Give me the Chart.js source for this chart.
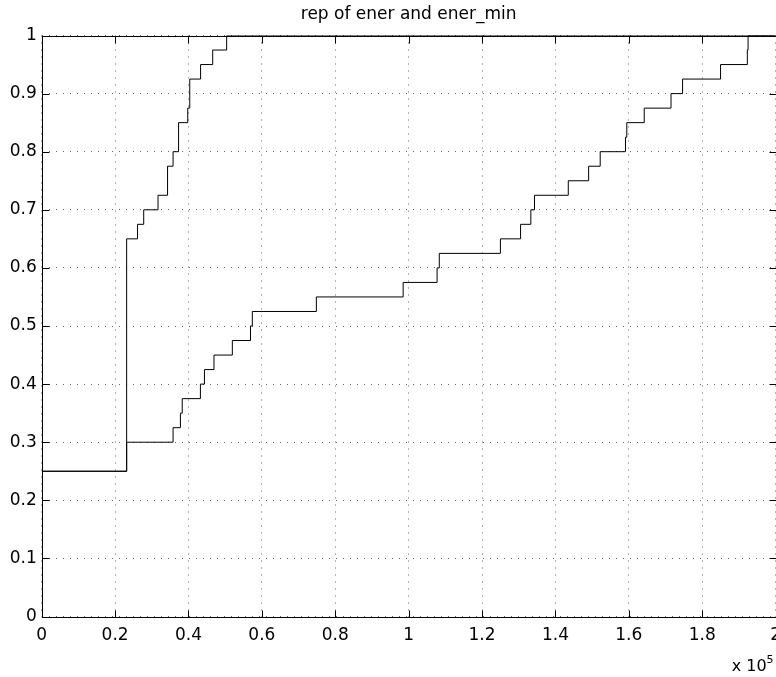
<!DOCTYPE html>
<html>
<head>
<meta charset="utf-8">
<script src="https://cdn.jsdelivr.net/npm/chart.js@4"></script>
<style>
  body { margin: 0; background: #fff; overflow: hidden; }
  #wrap { width: 776px; height: 677px; overflow: hidden; }
</style>
</head>
<body>
<div id="wrap"><canvas id="repChart" width="790" height="677"></canvas></div>
<script>
// empirical cdf steps: energy where the curve steps up, and the level after the step
const enerMinX = [0, 23150, 26100, 27800, 31700, 34300, 35800, 37300, 39800, 40350, 43300, 46600, 50400, 200000];
const enerMinY = [0.25, 0.65, 0.675, 0.7, 0.725, 0.775, 0.8, 0.85, 0.875, 0.925, 0.95, 0.975, 1, 1];

const enerX = [0, 23150, 35800, 37800, 38300, 43250, 44350, 46950, 51950, 56900, 57400, 74850, 98500, 107750, 108350,
  125000, 130500, 133300, 134300, 143500, 149050, 152200, 159100, 159450, 164200, 171500, 174650, 185000, 192300, 192500, 200000];
const enerY = [0.25, 0.3, 0.325, 0.35, 0.375, 0.4, 0.425, 0.45, 0.475, 0.5, 0.525, 0.55, 0.575, 0.6, 0.625,
  0.65, 0.675, 0.7, 0.725, 0.75, 0.775, 0.8, 0.825, 0.85, 0.875, 0.9, 0.925, 0.95, 0.975, 1, 1];

const xTicks = [0, 20000, 40000, 60000, 80000, 100000, 120000, 140000, 160000, 180000, 200000];
const yTicks = [0, 0.1, 0.2, 0.3, 0.4, 0.5, 0.6, 0.7, 0.8, 0.9, 1];

const titleText = 'rep of ener and ener_min';
const tickFont = { family: 'DejaVu Sans', size: 17 };

// matlab style box with inward ticks, title over the axes, and the "x 10^5" exponent
const boxAndTicks = {
  id: 'boxAndTicks',
  afterDraw(chart) {
    const { ctx, chartArea: a, scales: { x, y } } = chart;
    const L = Math.round(a.left) + 0.5, R = Math.round(a.right) + 0.5;
    const T = Math.round(a.top) + 0.5, B = Math.round(a.bottom) + 0.5;
    ctx.save();
    ctx.strokeStyle = '#000';
    ctx.lineWidth = 1;
    ctx.beginPath();
    x.ticks.forEach(t => {
      const px = Math.round(x.getPixelForValue(t.value)) + 0.5;
      ctx.moveTo(px, B); ctx.lineTo(px, B - 7);
      ctx.moveTo(px, T); ctx.lineTo(px, T + 7);
    });
    y.ticks.forEach(t => {
      const py = Math.round(y.getPixelForValue(t.value)) + 0.5;
      ctx.moveTo(L, py); ctx.lineTo(L + 7, py);
      ctx.moveTo(R, py); ctx.lineTo(R - 7, py);
    });
    ctx.stroke();
    ctx.strokeRect(L, T, R - L, B - T);

    ctx.fillStyle = '#000';
    ctx.font = '17px "DejaVu Sans"';
    ctx.textAlign = 'center';
    ctx.textBaseline = 'middle';
    ctx.fillText(titleText, (a.left + a.right) / 2, 15);

    ctx.font = '16px "DejaVu Sans"';
    ctx.textAlign = 'right';
    ctx.textBaseline = 'alphabetic';
    ctx.fillText('x 10', a.right - 9, a.bottom + 54);
    ctx.font = '11px "DejaVu Sans"';
    ctx.textAlign = 'left';
    ctx.fillText('5', a.right - 9, a.bottom + 46);
    ctx.restore();
  }
};

new Chart(document.getElementById('repChart'), {
  type: 'line',
  data: {
    datasets: [
      {
        label: 'ener_min',
        data: enerMinX.map((v, i) => ({ x: v, y: enerMinY[i] })),
        stepped: 'before',
        borderColor: '#000',
        borderWidth: 1,
        pointRadius: 0,
        fill: false
      },
      {
        label: 'ener',
        data: enerX.map((v, i) => ({ x: v, y: enerY[i] })),
        stepped: 'before',
        borderColor: '#000',
        borderWidth: 1,
        pointRadius: 0,
        fill: false
      }
    ]
  },
  options: {
    responsive: false,
    animation: false,
    layout: { padding: { left: 0, right: 13.2, top: 35.5, bottom: 0 } },
    plugins: {
      legend: { display: false },
      tooltip: { enabled: false },
      title: { display: false }
    },
    scales: {
      x: {
        type: 'linear',
        min: 0,
        max: 200000,
        afterBuildTicks: s => { s.ticks = xTicks.map(v => ({ value: v })); },
        afterFit: s => { s.height = 60.5; },
        grid: { color: '#666', drawTicks: false },
        border: { display: false, dash: [1, 6] },
        ticks: {
          color: '#000',
          padding: 9,
          font: tickFont,
          maxRotation: 0,
          autoSkip: false,
          callback: v => String(+(v / 1e5).toFixed(1))
        }
      },
      y: {
        min: 0,
        max: 1,
        afterBuildTicks: s => { s.ticks = yTicks.map(v => ({ value: v })); },
        afterFit: s => { s.width = 41.7; },
        grid: { color: '#666', drawTicks: false },
        border: { display: false, dash: [1, 6] },
        ticks: {
          color: '#000',
          padding: 5,
          font: tickFont,
          autoSkip: false,
          callback: v => String(+v.toFixed(1))
        }
      }
    }
  },
  plugins: [boxAndTicks]
});
</script>
</body>
</html>
